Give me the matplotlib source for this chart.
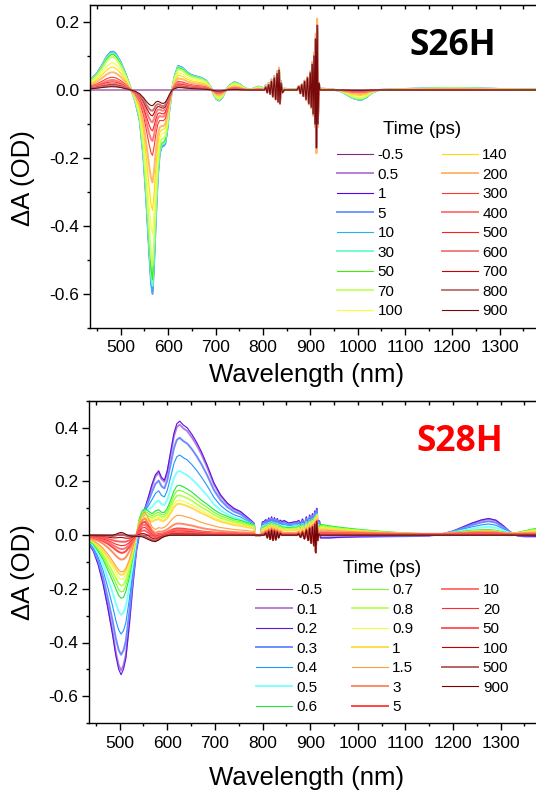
import matplotlib
matplotlib.use("Agg")
import matplotlib.pyplot as plt
from matplotlib.ticker import MultipleLocator, FormatStrFormatter
import numpy as np

plt.rcParams['font.family'] = ['Liberation Sans', 'DejaVu Sans']
plt.rcParams['axes.unicode_minus'] = False

#---------------------------
# S26H : two spectral components (early / late), amplitudes per delay

times1 = ['-0.5', '0.5', '1', '5', '10', '30', '50', '70', '100',
          '140', '200', '300', '400', '500', '600', '700', '800', '900']
amp_early1 = [0.0, 0.97, 1.0, 1.0, 0.99, 0.96, 0.93, 0.86, 0.67,
              0.54, 0.37, 0.22, 0.15, 0.10, 0.065, 0.04, 0.02, 0.005]
amp_late1 = [0.0, 0.0, 0.0, 0.0, 0.0, 0.0, 0.0, 0.0, 0.02,
             0.03, 0.05, 0.06, 0.06, 0.06, 0.056, 0.052, 0.049, 0.043]
art_scale1 = [0.9, 1.0, 1.0, 0.95, 1.05, 0.9, 1.0, 0.95, 1.0,
              0.9, 1.1, 0.95, 0.9, 1.0, 0.95, 0.9, 1.0, 1.0]
colors1 = ['#7D2A86', '#B57EDC', '#5000FF', '#6F9BFF', '#22B5E8', '#6FFFC8',
           '#3CF000', '#C8FF70', '#F5FF3C', '#FFDD00', '#FFB870', '#FF3A2A',
           '#FF7A7A', '#FF1E1E', '#F08080', '#C80000', '#C07878', '#7A0A0A']
widths1 = [0.8, 1.4, 0.8, 1.4, 0.8, 1.4, 0.8, 1.4, 0.8,
           0.8, 1.4, 0.8, 1.4, 0.8, 1.4, 0.8, 1.4, 0.8]

wl1 = [430, 440, 450, 460, 470, 478, 484, 490, 500, 510,
       520, 530, 540, 548, 554, 560, 564, 567, 570, 574,
       578, 582, 586, 590, 594, 598, 602, 608, 614, 621,
       630, 640, 650, 660, 670, 680, 690, 696, 702, 708,
       714, 722, 730, 740, 750, 760, 770, 780, 790, 800,
       845, 855, 868, 922, 935, 950, 965, 980, 990, 1000,
       1008, 1018, 1030, 1045, 1070, 1100, 1150, 1200, 1250, 1300,
       1350, 1390]
early1 = [0.025, 0.035, 0.05, 0.072, 0.098, 0.111, 0.113, 0.106, 0.082, 0.048,
          0.008, -0.03, -0.09, -0.2, -0.33, -0.48, -0.57, -0.6, -0.52, -0.38,
          -0.26, -0.19, -0.168, -0.165, -0.158, -0.12, -0.065, 0.0, 0.042, 0.071,
          0.066, 0.052, 0.044, 0.04, 0.036, 0.028, 0.008, -0.012, -0.027, -0.031,
          -0.022, 0.0, 0.014, 0.023, 0.018, 0.007, 0.001, 0.004, 0.01, 0.006,
          0.004, 0.002, 0.002, 0.004, 0.003, 0.001, -0.004, -0.016, -0.024, -0.028,
          -0.029, -0.022, -0.008, 0.0, 0.002, 0.003, 0.005, 0.006, 0.005, 0.003,
          0.002, 0.002]
late1 = [0.06, 0.09, 0.12, 0.16, 0.19, 0.21, 0.21, 0.2, 0.16, 0.09,
         0.01, -0.08, -0.25, -0.5, -0.75, -0.93, -1.0, -1.0, -0.92, -0.78,
         -0.74, -0.8, -0.88, -0.9, -0.82, -0.6, -0.35, -0.02, 0.1, 0.16,
         0.15, 0.12, 0.09, 0.075, 0.06, 0.045, 0.01, -0.03, -0.06, -0.07,
         -0.05, -0.01, 0.02, 0.03, 0.02, 0.005, 0.0, 0.0, 0.0, 0.0,
         0.0, 0.0, 0.0, 0.0, 0.0, 0.0, 0.0, -0.01, -0.02, -0.02,
         -0.02, -0.015, -0.005, 0.0, 0.0, 0.0, 0.0, 0.0, 0.0, 0.0,
         0.0, 0.0]

# pump scatter artefacts (same in all delays)
art1a_wl = [803, 806, 809, 812, 815, 818, 821, 824, 827, 830, 832, 834, 836, 838, 841]
art1a = [0.0, 0.008, -0.008, 0.015, -0.012, 0.025, -0.02, 0.035, -0.028, 0.048,
         -0.035, 0.058, -0.04, 0.02, -0.008]
art1b_wl = [872, 876, 879, 882, 885, 888, 891, 894, 897, 900, 902,
            904, 906, 908, 910, 911.5, 913, 914.5, 916, 918, 920]
art1b = [0.0, 0.01, -0.01, 0.015, -0.018, 0.025, -0.028, 0.035, -0.04, 0.05, -0.05,
         0.075, -0.07, 0.1, -0.1, 0.15, -0.17, 0.19, -0.1, 0.02, 0.0]

#---------------------------
# S28H : early / mid / late / long-lived components

times2 = ['-0.5', '0.1', '0.2', '0.3', '0.4', '0.5', '0.6', '0.7', '0.8', '0.9',
          '1', '1.5', '3', '5', '10', '20', '50', '100', '500', '900']
w_early2 = [0.0, 0.97, 1.0, 0.78, 0.55, 0.3, 0.0, 0.0, 0.0, 0.0,
            0.0, 0.0, 0.0, 0.0, 0.0, 0.0, 0.0, 0.0, 0.0, 0.0]
w_mid2 = [0.0, 0.0, 0.0, 0.17, 0.35, 0.6, 1.0, 0.9, 0.8, 0.7,
          0.63, 0.23, 0.09, 0.0, 0.0, 0.0, 0.0, 0.0, 0.0, 0.0]
w_late2 = [0.0, 0.0, 0.0, 0.0, 0.0, 0.0, 0.0, 0.0, 0.0, 0.0,
           0.0, 1.25, 1.06, 1.0, 0.8, 0.62, 0.42, 0.22, 0.08, 0.0]
w_long2 = [0.0, 0.0, 0.0, 0.0, 0.0, 0.0, 0.0, 0.0, 0.0, 0.0,
           0.0, 0.0, 0.0, 0.0, 0.1, 0.2, 0.35, 0.6, 0.85, 1.0]
art_scale2 = [0.9, 1.0, 1.0, 0.95, 1.05, 0.9, 1.0, 0.95, 1.0, 0.9,
              1.1, 0.95, 0.9, 1.0, 0.95, 0.9, 1.0, 1.0, 0.95, 1.0]
colors2 = ['#7D2A86', '#B57EDC', '#5A14E6', '#6F8CFF', '#1E96FF', '#80FFFF',
           '#1EE63C', '#78FF1E', '#B4FF46', '#EEFF3C', '#FFDC50', '#FFA03C',
           '#FF8C64', '#FF4646', '#FF7070', '#FF2A2A', '#FF5A5A', '#C00000',
           '#B46464', '#780000']
widths2 = [0.8, 1.4, 0.8, 1.4, 0.8, 1.4, 0.8, 0.8, 1.2, 0.8,
           1.4, 0.8, 1.4, 1.4, 1.4, 0.8, 1.4, 0.8, 1.4, 0.8]

wl2 = [435, 445, 455, 465, 475, 485, 492, 498, 503, 508,
       513, 520, 528, 535, 541, 547, 553, 560, 568, 575,
       582, 588, 594, 600, 607, 614, 620, 626, 634, 642,
       652, 662, 672, 684, 698, 712, 726, 740, 754, 766,
       776, 782, 785, 796, 800, 845, 855, 868, 922, 940,
       960, 1000, 1050, 1100, 1150, 1180, 1200, 1220, 1240, 1260,
       1275, 1290, 1305, 1320, 1335, 1350, 1365, 1380]
early2 = [-0.03, -0.06, -0.11, -0.18, -0.27, -0.37, -0.45, -0.5, -0.52, -0.5,
          -0.46, -0.34, -0.18, -0.06, 0.0, 0.05, 0.1, 0.14, 0.19, 0.225,
          0.24, 0.215, 0.205, 0.24, 0.31, 0.38, 0.415, 0.425, 0.41, 0.4,
          0.375, 0.345, 0.31, 0.26, 0.195, 0.15, 0.12, 0.1, 0.088, 0.07,
          0.055, 0.045, 0.0, 0.0, 0.05, 0.055, 0.045, 0.05, -0.01, -0.01,
          -0.008, -0.006, -0.005, -0.004, -0.002, 0.005, 0.015, 0.03, 0.045, 0.057,
          0.062, 0.056, 0.036, 0.012, -0.002, -0.005, -0.005, -0.005]
mid2 = [-0.02, -0.035, -0.06, -0.09, -0.13, -0.17, -0.2, -0.225, -0.235, -0.232,
        -0.21, -0.16, -0.08, 0.0, 0.06, 0.09, 0.1, 0.09, 0.08, 0.09,
        0.095, 0.085, 0.085, 0.1, 0.13, 0.165, 0.183, 0.186, 0.18, 0.172,
        0.16, 0.145, 0.13, 0.115, 0.095, 0.08, 0.07, 0.06, 0.055, 0.048,
        0.042, 0.04, 0.0, 0.0, 0.03, 0.03, 0.028, 0.03, 0.04, 0.035,
        0.03, 0.022, 0.014, 0.008, 0.005, 0.006, 0.01, 0.014, 0.018, 0.02,
        0.021, 0.018, 0.012, 0.008, 0.01, 0.016, 0.022, 0.026]
late2 = [-0.005, -0.01, -0.015, -0.022, -0.032, -0.045, -0.055, -0.062, -0.066, -0.065,
         -0.06, -0.045, -0.02, 0.0, 0.025, 0.045, 0.05, 0.035, 0.01, 0.0,
         0.005, 0.005, 0.008, 0.012, 0.018, 0.023, 0.025, 0.025, 0.024, 0.022,
         0.02, 0.017, 0.014, 0.012, 0.01, 0.008, 0.007, 0.006, 0.005, 0.005,
         0.004, 0.004, 0.0, 0.0, 0.004, 0.003, 0.003, 0.003, 0.008, 0.008,
         0.007, 0.006, 0.005, 0.004, 0.004, 0.004, 0.005, 0.006, 0.007, 0.008,
         0.008, 0.007, 0.005, 0.004, 0.004, 0.004, 0.004, 0.004]
long2 = [0.0, 0.0, 0.0, 0.0, 0.0, 0.0, 0.003, 0.008, 0.01, 0.008,
         0.003, -0.002, -0.004, -0.004, -0.005, -0.006, -0.01, -0.016, -0.022, -0.024,
         -0.018, -0.01, -0.005, -0.002] + [0.0] * 44

art2a_wl = [803, 807, 810, 813, 816, 819, 822, 825, 828, 831, 834, 837, 841]
art2a = [0.0, 0.008, -0.01, 0.014, -0.016, 0.018, -0.02, 0.015, -0.018, 0.012,
         -0.01, 0.006, 0.0]
art2b_wl = [872, 876, 880, 884, 888, 892, 896, 899, 902, 905, 908, 910, 912,
            914, 916, 918, 920]
art2b = [0.0, 0.005, -0.008, 0.01, -0.014, 0.018, -0.02, 0.025, -0.03, 0.03,
         -0.04, 0.04, -0.066, 0.05, -0.02, 0.005, 0.0]

#---------------------------

def with_artefacts(wl, base, regions, scale):
	#artefact sits on the level of the last knot before its region
	x = list(wl)
	y = list(base)
	for awl, aval in regions:
		idx = np.searchsorted(wl, awl[0]) - 1
		x += list(awl)
		y += list(base[idx] + scale * np.array(aval))
	order = np.argsort(x)
	return np.array(x)[order], np.array(y)[order]

def style_axes(ax):
	ax.set_xlim(435, 1380)
	ax.xaxis.set_major_locator(MultipleLocator(100))
	ax.xaxis.set_minor_locator(MultipleLocator(50))
	ax.yaxis.set_major_locator(MultipleLocator(0.2))
	ax.yaxis.set_minor_locator(MultipleLocator(0.1))
	ax.yaxis.set_major_formatter(FormatStrFormatter('%.1f'))
	ax.tick_params(which='both', direction='out', top=False, right=False,
	               labelsize=12.5, width=1, pad=2.5)
	ax.tick_params(which='major', length=5)
	ax.tick_params(which='minor', length=2.5)
	ax.tick_params(axis='x', pad=4)
	for s in ax.spines.values():
		s.set_linewidth(1.0)
	top = ax.secondary_xaxis('top')
	top.xaxis.set_major_locator(MultipleLocator(50))
	top.tick_params(direction='in', length=3, width=1, labeltop=False)

def time_legend(ax, ncol, anchor, colsp, title_gap):
	leg = ax.legend(ncol=ncol, loc='upper left',
	                bbox_to_anchor=(anchor[0] / W, 1 - anchor[1] / H),
	                bbox_transform=fig.transFigure, frameon=False, fontsize=11,
	                title='Time (ps)', title_fontsize=13.5, handlelength=2.35,
	                handletextpad=0.3, labelspacing=0.36, columnspacing=colsp,
	                borderpad=0, borderaxespad=0)
	leg._legend_box.sep = title_gap #gap between title and entries (pt)
	return leg

W, H = 536, 796
fig = plt.figure(figsize=(W / 100, H / 100), dpi=100)

#---------------------------
# top panel

ax1 = fig.add_axes([90 / W, 1 - 328 / H, 447.7 / W, 323 / H])
e1 = np.array(early1)
l1 = np.array(late1)
for i in range(len(times1)):
	base = amp_early1[i] * e1 + amp_late1[i] * l1
	x, y = with_artefacts(wl1, base, [(art1a_wl, art1a), (art1b_wl, art1b)], art_scale1[i])
	ax1.plot(x, y, color=colors1[i], lw=widths1[i], label=times1[i])
ax1.set_ylim(-0.7, 0.25)
style_axes(ax1)
time_legend(ax1, 2, (337, 121), 2.5, 7.4)
fig.text(453 / W, 1 - 46 / H, 'S26H', fontsize=25.5, fontweight='bold',
         family=['Open Sans', 'DejaVu Sans'], ha='center', va='center', color='black')

#---------------------------
# bottom panel

ax2 = fig.add_axes([88.7 / W, 1 - 723 / H, 450 / W, 322 / H])
e2 = np.array(early2)
m2 = np.array(mid2)
t2 = np.array(late2)
g2 = np.array(long2)
for i in range(len(times2)):
	base = w_early2[i] * e2 + w_mid2[i] * m2 + w_late2[i] * t2 + w_long2[i] * g2
	x, y = with_artefacts(wl2, base, [(art2a_wl, art2a), (art2b_wl, art2b)], art_scale2[i])
	ax2.plot(x, y, color=colors2[i], lw=widths2[i], label=times2[i])
ax2.set_ylim(-0.7, 0.5)
style_axes(ax2)
time_legend(ax2, 3, (256, 560), 1.9, 4.5)
fig.text(460 / W, 1 - 442 / H, 'S28H', fontsize=25.5, fontweight='bold',
         family=['Open Sans', 'DejaVu Sans'], ha='center', va='center', color='#FF0000')

#---------------------------
# axis titles

for yb, yc in [(382, 178), (785, 572)]:
	fig.text(307 / W, 1 - yb / H, 'Wavelength (nm)', fontsize=18.5,
	         ha='center', va='baseline')
	fig.text(23 / W, 1 - yc / H, '\u0394A (OD)', fontsize=18.5,
	         ha='center', va='center', rotation=90)

fig.savefig('out.png', dpi=100)
